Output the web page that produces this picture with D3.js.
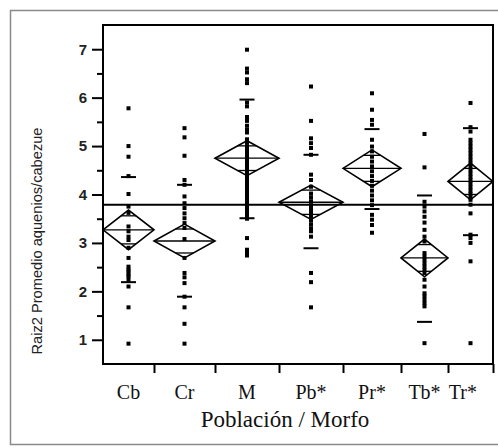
<!DOCTYPE html>
<html>
<head>
<meta charset="utf-8">
<script src="https://cdn.jsdelivr.net/npm/d3@7"></script>
<style>
  html, body { margin: 0; padding: 0; background: #fff; }
  svg { display: block; }
</style>
</head>
<body>
<div id="chart"></div>
<script>
// groups (x axis) and their relative share of the axis (JMP widths ~ sample size)
const groups = ['Cb', 'Cr', 'M', 'Pb*', 'Pr*', 'Tb*', 'Tr*'];
const groupSize = [51, 61, 64, 64, 58, 47, 45];

// raw observations per group
const ptsCb = [5.78, 5.0, 4.78, 4.38, 4.01, 3.75, 3.62, 3.34, 3.24, 3.13, 3.06, 2.9, 2.69, 2.51, 2.45, 2.41, 2.35, 2.31, 2.24, 2.10, 1.67, 0.92];
const ptsCr = [5.37, 5.18, 4.80, 4.30, 4.20, 3.96, 3.82, 3.72, 3.61, 3.51, 3.41, 3.31, 3.08, 2.69, 2.38, 2.29, 2.17, 1.89, 1.67, 1.33, 0.92];
const ptsM = [6.99, 6.6, 6.52, 6.38, 6.3, 5.9, 5.82, 5.6, 5.52, 5.42, 5.34, 5.28, 5.14, 5.08, 5.0, 4.94, 4.88, 4.82, 4.76, 4.7,
  4.64, 4.58, 4.52, 4.46, 4.4, 4.34, 4.28, 4.22, 4.16, 4.1, 4.04, 3.98, 3.92, 3.86, 3.8, 3.74, 3.68, 3.62, 3.56, 3.5, 3.1, 2.86, 2.8, 2.74];
const ptsPb = [6.23, 5.52, 5.16, 5.06, 4.96, 4.82, 4.41, 4.3, 4.16, 4.02, 3.94, 3.86, 3.78, 3.7, 3.62, 3.54, 3.46, 3.38, 3.3, 3.24, 3.13, 2.38, 2.19, 1.67];
const ptsPr = [6.09, 5.75, 5.54, 5.44, 5.13, 4.99, 4.89, 4.78, 4.68, 4.58, 4.48, 4.38, 4.28, 4.18, 4.08, 3.98, 3.88, 3.78, 3.58, 3.48, 3.37, 3.21];
const ptsTb = [5.25, 4.56, 3.85, 3.75, 3.65, 3.54, 3.42, 3.27, 3.13, 3.03, 2.79, 2.72, 2.65, 2.58, 2.51, 2.44, 2.38, 2.24, 2.10, 1.96, 1.9, 1.83, 1.76, 1.69, 0.93];
const ptsTr = [5.89, 5.39, 5.30, 5.13, 5.06, 4.99, 4.92, 4.85, 4.78, 4.71, 4.64, 4.57, 4.5, 4.43, 4.36, 4.29, 4.22, 4.15, 4.08, 4.01, 3.94, 3.89, 3.79, 3.61, 3.17, 3.10, 3.0, 2.62, 0.93];
const points = [ptsCb, ptsCr, ptsM, ptsPb, ptsPr, ptsTb, ptsTr];

// group summaries
const means = [3.27, 3.04, 4.75, 3.84, 4.54, 2.69, 4.27];
const ciHalf = [0.41, 0.35, 0.36, 0.355, 0.38, 0.39, 0.38];
const sdHigh = [4.36, 4.20, 5.96, 4.82, 5.35, 3.98, 5.37];
const sdLow = [2.19, 1.89, 3.51, 2.89, 3.70, 1.37, 3.16];
const grandMean = 3.79;

const yTicks = [1, 2, 3, 4, 5, 6, 7];
const yMinor = [1.5, 2.5, 3.5, 4.5, 5.5, 6.5];
const yTitle = 'Raiz2 Promedio aquenios/cabezue';
const xTitle = 'Población / Morfo';

const W = 498, H = 448;
const margin = { top: 25, right: 5, bottom: 84, left: 103 };
const plotW = W - margin.left - margin.right;
const plotH = H - margin.top - margin.bottom;

const svg = d3.select('#chart').append('svg')
    .attr('width', W)
    .attr('height', H);

svg.append('rect').attr('width', W).attr('height', H).attr('fill', '#fff');

// scanned page frame
svg.append('rect')
    .attr('x', 10.5).attr('y', 10.5)
    .attr('width', W).attr('height', 434)
    .attr('fill', 'none')
    .attr('stroke', '#8a8a8a')
    .attr('stroke-width', 1.5);

const chart = svg.append('g')
    .attr('transform', `translate(${margin.left}, ${margin.top})`);

const y = d3.scaleLinear().domain([0.5, 7.5]).range([plotH, 0]);

// cumulative group boundaries
const bounds = [0];
groupSize.forEach(s => bounds.push(bounds[bounds.length - 1] + s));
const x = d3.scaleLinear().domain([0, d3.sum(groupSize)]).range([0, plotW]);

const groupData = groups.map((g, i) => ({
    name: g,
    x0: x(bounds[i]),
    x1: x(bounds[i + 1]),
    cx: (x(bounds[i]) + x(bounds[i + 1])) / 2,
    pts: points[i],
    mean: means[i],
    ci: ciHalf[i],
    hi: sdHigh[i],
    lo: sdLow[i]
}));

// y axis: major + minor ticks
const yAxis = chart.append('g')
    .call(d3.axisLeft(y).tickValues(yTicks).tickSize(11).tickPadding(5).tickFormat(d3.format('d')));
yAxis.select('.domain').remove();
yAxis.selectAll('.tick line').attr('stroke-width', 2);
yAxis.selectAll('.tick text')
    .attr('font-family', 'Liberation Sans, Arial, sans-serif')
    .attr('font-size', 15)
    .attr('font-weight', 'bold')
    .attr('fill', '#222');

const yMinorAxis = chart.append('g')
    .call(d3.axisLeft(y).tickValues(yMinor).tickSize(6).tickFormat(''));
yMinorAxis.select('.domain').remove();
yMinorAxis.selectAll('.tick line').attr('stroke-width', 2);

// x axis: ticks at group boundaries
const xAxis = chart.append('g')
    .attr('transform', `translate(0, ${plotH})`)
    .call(d3.axisBottom(x).tickValues(bounds.slice(1)).tickSize(9).tickFormat(''));
xAxis.select('.domain').remove();
xAxis.selectAll('.tick line').attr('stroke-width', 2);

// category labels
const catLabels = chart.append('g').selectAll('text')
    .data(groupData)
    .join('text')
    .attr('x', d => d.cx)
    .attr('y', plotH + 35)
    .attr('text-anchor', 'middle')
    .attr('font-family', 'Liberation Serif, Times New Roman, serif')
    .attr('font-size', 20)
    .attr('fill', '#111')
    .text(d => d.name);
// keep last label inside the frame
catLabels.each(function () {
    const w = this.getComputedTextLength();
    const cx = +d3.select(this).attr('x');
    const maxX = plotW - 16 - w / 2;
    if (cx > maxX) d3.select(this).attr('x', maxX);
});

// axis titles
chart.append('text')
    .attr('x', plotW / 2 - 13)
    .attr('y', plotH + 63)
    .attr('text-anchor', 'middle')
    .attr('font-family', 'Liberation Serif, Times New Roman, serif')
    .attr('font-size', 23)
    .attr('fill', '#111')
    .text(xTitle);

svg.append('text')
    .attr('transform', `translate(42, 241) rotate(-90)`)
    .attr('text-anchor', 'middle')
    .attr('font-family', 'Liberation Sans Narrow, Arial Narrow, Liberation Sans, sans-serif')
    .attr('font-size', 14)
    .attr('textLength', 227)
    .attr('lengthAdjust', 'spacingAndGlyphs')
    .attr('fill', '#222')
    .text(yTitle);

// data points
const markSize = 4;
const pg = chart.append('g');
groupData.forEach(g => {
    pg.selectAll(null)
        .data(g.pts)
        .join('rect')
        .attr('x', g.cx - markSize / 2)
        .attr('y', d => y(d) - markSize / 2)
        .attr('width', markSize)
        .attr('height', markSize)
        .attr('fill', '#000');
});

// means diamonds
const dg = chart.append('g').attr('fill', 'none').attr('stroke', '#000');
const over = Math.SQRT1_2;
groupData.forEach(g => {
    const half = (g.x1 - g.x0) / 2;
    dg.append('path')
        .attr('d', `M${g.x0},${y(g.mean)} L${g.cx},${y(g.mean + g.ci)} L${g.x1},${y(g.mean)} L${g.cx},${y(g.mean - g.ci)} Z`)
        .attr('stroke-width', 1.6);
    dg.append('line')
        .attr('x1', g.x0).attr('x2', g.x1)
        .attr('y1', y(g.mean)).attr('y2', y(g.mean))
        .attr('stroke-width', 1.3);
    // overlap marks
    [1, -1].forEach(s => {
        const yy = y(g.mean + s * g.ci * over);
        const w = half * (1 - over);
        dg.append('line')
            .attr('x1', g.cx - w).attr('x2', g.cx + w)
            .attr('y1', yy).attr('y2', yy)
            .attr('stroke-width', 1.3);
    });
    // std dev lines
    [g.hi, g.lo].forEach(v => {
        dg.append('line')
            .attr('x1', g.cx - 7.5).attr('x2', g.cx + 7.5)
            .attr('y1', y(v)).attr('y2', y(v))
            .attr('stroke-width', 2);
    });
});

// grand mean
chart.append('line')
    .attr('x1', 0).attr('x2', plotW)
    .attr('y1', y(grandMean)).attr('y2', y(grandMean))
    .attr('stroke', '#000')
    .attr('stroke-width', 2);

// plot frame
chart.append('rect')
    .attr('width', plotW)
    .attr('height', plotH)
    .attr('fill', 'none')
    .attr('stroke', '#000')
    .attr('stroke-width', 2);
</script>
</body>
</html>
